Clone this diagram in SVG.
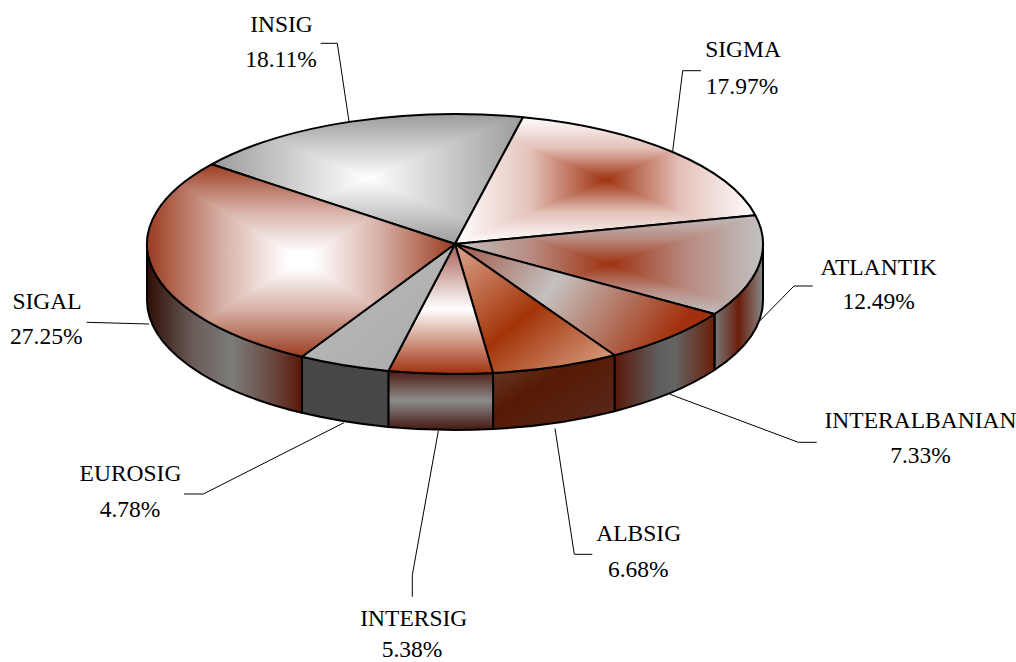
<svg xmlns="http://www.w3.org/2000/svg" width="1016" height="662" viewBox="0 0 1016 662">
<style>
.edge{fill:none;stroke:#000;stroke-width:2;stroke-linejoin:round}
.lead{fill:none;stroke:#000;stroke-width:1}
.lbl{font-size:23.5px;fill:#000;text-anchor:middle}
.rect{shape-rendering:crispEdges}
</style>
<defs>
<linearGradient id="g-insig"><stop offset="0" stop-color="#9a9a9a"/><stop offset="1" stop-color="#ffffff"/></linearGradient>
<linearGradient id="g-sigma"><stop offset="0" stop-color="#ffffff"/><stop offset="0.5" stop-color="#e4c2ba"/><stop offset="1" stop-color="#9f3210"/></linearGradient>
<linearGradient id="g-atl"><stop offset="0" stop-color="#c2c2c2"/><stop offset="0.5" stop-color="#b88a80"/><stop offset="1" stop-color="#9f3210"/></linearGradient>
<linearGradient id="g-sigal"><stop offset="0" stop-color="#9a3a1e"/><stop offset="0.5" stop-color="#d8b2a8"/><stop offset="0.92" stop-color="#ffffff"/><stop offset="1" stop-color="#ffffff"/></linearGradient>
<linearGradient id="insig-t" href="#g-insig" x1="0" y1="0" x2="0" y2="1"/>
<linearGradient id="insig-b" href="#g-insig" x1="0" y1="1" x2="0" y2="0"/>
<linearGradient id="insig-l" href="#g-insig" x1="0" y1="0" x2="1" y2="0"/>
<linearGradient id="insig-r" href="#g-insig" x1="1" y1="0" x2="0" y2="0"/>
<linearGradient id="sigma-t" href="#g-sigma" x1="0" y1="0" x2="0" y2="1"/>
<linearGradient id="sigma-b" href="#g-sigma" x1="0" y1="1" x2="0" y2="0"/>
<linearGradient id="sigma-l" href="#g-sigma" x1="0" y1="0" x2="1" y2="0"/>
<linearGradient id="sigma-r" href="#g-sigma" x1="1" y1="0" x2="0" y2="0"/>
<linearGradient id="atl-t" href="#g-atl" x1="0" y1="0" x2="0" y2="1"/>
<linearGradient id="atl-b" href="#g-atl" x1="0" y1="1" x2="0" y2="0"/>
<linearGradient id="atl-l" href="#g-atl" x1="0" y1="0" x2="1" y2="0"/>
<linearGradient id="atl-r" href="#g-atl" x1="1" y1="0" x2="0" y2="0"/>
<linearGradient id="sigal-t" href="#g-sigal" x1="0" y1="0" x2="0" y2="1"/>
<linearGradient id="sigal-b" href="#g-sigal" x1="0" y1="1" x2="0" y2="0"/>
<linearGradient id="sigal-l" href="#g-sigal" x1="0" y1="0" x2="1" y2="0"/>
<linearGradient id="sigal-r" href="#g-sigal" x1="1" y1="0" x2="0" y2="0"/>
<linearGradient id="top-interalb" x1="0" y1="0" x2="1" y2="0.3">
<stop offset="0" stop-color="#a05444"/><stop offset="0.45" stop-color="#c4c1bf"/><stop offset="1" stop-color="#a3300c"/></linearGradient>
<linearGradient id="top-albsig" x1="0" y1="0" x2="1" y2="1">
<stop offset="0" stop-color="#dca690"/><stop offset="0.5" stop-color="#a33408"/><stop offset="1" stop-color="#dca88e"/></linearGradient>
<linearGradient id="top-intersig" x1="0" y1="0" x2="0" y2="1">
<stop offset="0" stop-color="#a85e54"/><stop offset="0.5" stop-color="#ffffff"/><stop offset="1" stop-color="#a0300e"/></linearGradient>
<linearGradient id="top-euro" x1="0" y1="0" x2="1" y2="1">
<stop offset="0" stop-color="#bcbcbc"/><stop offset="1" stop-color="#aaaaaa"/></linearGradient>
<linearGradient id="side-sigal" x1="0" y1="0" x2="1" y2="0">
<stop offset="0" stop-color="#2e0e06"/><stop offset="0.3" stop-color="#6a5c58"/><stop offset="0.55" stop-color="#7c7c7a"/><stop offset="0.8" stop-color="#6a4a42"/><stop offset="1" stop-color="#5a1808"/></linearGradient>
<linearGradient id="side-intersig" x1="0" y1="0" x2="0" y2="1">
<stop offset="0" stop-color="#4e1a10"/><stop offset="0.5" stop-color="#8c8c8c"/><stop offset="1" stop-color="#441810"/></linearGradient>
<linearGradient id="side-albsig" x1="0" y1="0" x2="1" y2="1">
<stop offset="0" stop-color="#6a4030"/><stop offset="0.4" stop-color="#561a04"/><stop offset="1" stop-color="#5a2a20"/></linearGradient>
<linearGradient id="side-interalb" x1="0" y1="0" x2="1" y2="0">
<stop offset="0" stop-color="#5a1808"/><stop offset="0.45" stop-color="#5e5e5e"/><stop offset="0.6" stop-color="#646464"/><stop offset="1" stop-color="#6a1e08"/></linearGradient>
<linearGradient id="side-atl" x1="0" y1="0" x2="1" y2="0">
<stop offset="0" stop-color="#787878"/><stop offset="0.5" stop-color="#6a1e0a"/><stop offset="1" stop-color="#888888"/></linearGradient>
<clipPath id="c-insig"><path d="M455,244 L211.63,164.32 A308,130 0 0 1 522.98,117.21 Z"/></clipPath>
<clipPath id="c-sigma"><path d="M455,244 L522.98,117.21 A308,130 0 0 1 755.35,215.20 Z"/></clipPath>
<clipPath id="c-atl"><path d="M455,244 L755.35,215.20 A308,130 0 0 1 714.49,314.04 Z"/></clipPath>
<clipPath id="c-sigal"><path d="M455,244 L301.93,356.81 A308,130 0 0 1 211.63,164.32 Z"/></clipPath>
</defs>

<g font-family="Liberation Serif, DejaVu Serif, serif">
<g id="insig">
<g clip-path="url(#c-insig)" class="rect">
<polygon points="211,113 524,113 367.5,178.5" fill="url(#insig-t)"/>
<polygon points="211,245 524,245 367.5,178.5" fill="url(#insig-b)"/>
<polygon points="211,113 211,245 367.5,178.5" fill="url(#insig-l)"/>
<polygon points="524,113 524,245 367.5,178.5" fill="url(#insig-r)"/>
</g>
<path class="edge" d="M455,244 L211.63,164.32 A308,130 0 0 1 522.98,117.21 Z"/>
<text class="lbl" x="281.5" y="31.7">INSIG</text>
<text class="lbl" x="281" y="66.7">18.11%</text>
</g>

<g id="sigma">
<g clip-path="url(#c-sigma)" class="rect">
<polygon points="455,116 756,116 605.5,180" fill="url(#sigma-t)"/>
<polygon points="455,244 756,244 605.5,180" fill="url(#sigma-b)"/>
<polygon points="455,116 455,244 605.5,180" fill="url(#sigma-l)"/>
<polygon points="756,116 756,244 605.5,180" fill="url(#sigma-r)"/>
</g>
<path class="edge" d="M455,244 L522.98,117.21 A308,130 0 0 1 755.35,215.20 Z"/>
<text class="lbl" x="743" y="57.3">SIGMA</text>
<text class="lbl" x="742" y="93.5">17.97%</text>
</g>

<g id="atlantik">
<path d="M763,244 A308,130 0 0 1 714.49,314.04 L714.49,370.04 A308,130 0 0 0 763,300 Z" fill="url(#side-atl)"/>
<path class="edge" d="M763,244 A308,130 0 0 1 714.49,314.04 L714.49,370.04 A308,130 0 0 0 763,300 Z"/>
<g clip-path="url(#c-atl)" class="rect">
<polygon points="455,214 764,214 609.5,264" fill="url(#atl-t)"/>
<polygon points="455,315 764,315 609.5,264" fill="url(#atl-b)"/>
<polygon points="455,214 455,315 609.5,264" fill="url(#atl-l)"/>
<polygon points="764,214 764,315 609.5,264" fill="url(#atl-r)"/>
</g>
<path class="edge" d="M455,244 L755.35,215.20 A308,130 0 0 1 714.49,314.04 Z"/>
<text class="lbl" x="878.7" y="275">ATLANTIK</text>
<text class="lbl" x="878.7" y="309.3">12.49%</text>
</g>

<g id="interalbanian">
<path d="M714.49,314.04 A308,130 0 0 1 614.55,355.20 L614.55,411.20 A308,130 0 0 0 714.49,370.04 Z" fill="url(#side-interalb)"/>
<path class="edge" d="M714.49,314.04 A308,130 0 0 1 614.55,355.20 L614.55,411.20 A308,130 0 0 0 714.49,370.04 Z"/>
<path d="M455,244 L714.49,314.04 A308,130 0 0 1 614.55,355.20 Z" fill="url(#top-interalb)"/>
<path class="edge" d="M455,244 L714.49,314.04 A308,130 0 0 1 614.55,355.20 Z"/>
<text class="lbl" x="920.5" y="428.3">INTERALBANIAN</text>
<text class="lbl" x="920.5" y="463.3">7.33%</text>
</g>

<g id="albsig">
<path d="M614.55,355.20 A308,130 0 0 1 493.07,373.00 L493.07,429.00 A308,130 0 0 0 614.55,411.20 Z" fill="url(#side-albsig)"/>
<path class="edge" d="M614.55,355.20 A308,130 0 0 1 493.07,373.00 L493.07,429.00 A308,130 0 0 0 614.55,411.20 Z"/>
<path d="M455,244 L614.55,355.20 A308,130 0 0 1 493.07,373.00 Z" fill="url(#top-albsig)"/>
<path class="edge" d="M455,244 L614.55,355.20 A308,130 0 0 1 493.07,373.00 Z"/>
<text class="lbl" x="638.7" y="540.7">ALBSIG</text>
<text class="lbl" x="638.3" y="576.7">6.68%</text>
</g>

<g id="intersig">
<path d="M493.07,373.00 A308,130 0 0 1 388.34,370.92 L388.34,426.92 A308,130 0 0 0 493.07,429.00 Z" fill="url(#side-intersig)"/>
<path class="edge" d="M493.07,373.00 A308,130 0 0 1 388.34,370.92 L388.34,426.92 A308,130 0 0 0 493.07,429.00 Z"/>
<path d="M455,244 L493.07,373.00 A308,130 0 0 1 388.34,370.92 Z" fill="url(#top-intersig)"/>
<path class="edge" d="M455,244 L493.07,373.00 A308,130 0 0 1 388.34,370.92 Z"/>
<text class="lbl" x="413.8" y="626">INTERSIG</text>
<text class="lbl" x="412" y="657">5.38%</text>
</g>

<g id="eurosig">
<path d="M388.34,370.92 A308,130 0 0 1 301.93,356.81 L301.93,412.81 A308,130 0 0 0 388.34,426.92 Z" fill="#474747"/>
<path class="edge" d="M388.34,370.92 A308,130 0 0 1 301.93,356.81 L301.93,412.81 A308,130 0 0 0 388.34,426.92 Z"/>
<path d="M455,244 L388.34,370.92 A308,130 0 0 1 301.93,356.81 Z" fill="url(#top-euro)"/>
<path class="edge" d="M455,244 L388.34,370.92 A308,130 0 0 1 301.93,356.81 Z"/>
<text class="lbl" x="130.5" y="481">EUROSIG</text>
<text class="lbl" x="130" y="516.7">4.78%</text>
</g>

<g id="sigal">
<path d="M301.93,356.81 A308,130 0 0 1 147,244 L147,300 A308,130 0 0 0 301.93,412.81 Z" fill="url(#side-sigal)"/>
<path class="edge" d="M301.93,356.81 A308,130 0 0 1 147,244 L147,300 A308,130 0 0 0 301.93,412.81 Z"/>
<g clip-path="url(#c-sigal)" class="rect">
<polygon points="146,163 456,163 301,260" fill="url(#sigal-t)"/>
<polygon points="146,358 456,358 301,260" fill="url(#sigal-b)"/>
<polygon points="146,163 146,358 301,260" fill="url(#sigal-l)"/>
<polygon points="456,163 456,358 301,260" fill="url(#sigal-r)"/>
</g>
<path class="edge" d="M455,244 L301.93,356.81 A308,130 0 0 1 211.63,164.32 Z"/>
<text class="lbl" x="47" y="309">SIGAL</text>
<text class="lbl" x="46.3" y="344">27.25%</text>
</g>
</g>

<g id="connectors">
<path class="lead" d="M320.7,43.3 H337.3 L349,121.5"/>
<path class="lead" d="M701,70.7 H682.7 L672.7,151"/>
<path class="lead" d="M812.7,286 H794 L756.7,324"/>
<path class="lead" d="M816.7,442.3 H798.3 L670,394.3"/>
<path class="lead" d="M592.3,554.3 H574.3 L555,428.5"/>
<path class="lead" d="M412.3,596.7 V575 L438.3,431"/>
<path class="lead" d="M184,494 H203.3 L344,422.7"/>
<path class="lead" d="M86.7,322.3 L149,324"/>
</g>
</svg>
